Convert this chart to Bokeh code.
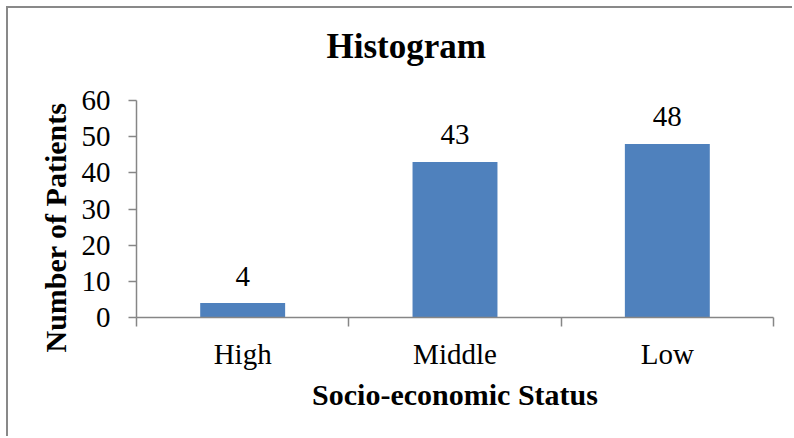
from bokeh.plotting import figure
from bokeh.models import ColumnDataSource, FixedTicker, Range1d, Title
from bokeh.embed import file_html
from bokeh.resources import INLINE
from bokeh.core.properties import value

categories = ["High", "Middle", "Low"]
patients = [4, 43, 48]
y_ticks = [0, 10, 20, 30, 40, 50, 60]
title_text = "Histogram"
x_title = "Socio-economic Status"
y_title = "Number of Patients"

FONT = "Liberation Serif"
AXIS_COLOR = "#868686"
BAR_COLOR = "#4F81BD"

x_pos = [i + 0.5 for i in range(len(categories))]
bounds = [float(i) for i in range(len(categories) + 1)]
src = ColumnDataSource(dict(x=x_pos, top=patients, label=[str(v) for v in patients]))

p = figure(width=786, height=430, output_backend="svg", toolbar_location=None,
           title_location=None,
           x_range=Range1d(0, len(categories)), y_range=Range1d(y_ticks[0], y_ticks[-1]),
           min_border_left=128, min_border_right=21, min_border_top=92, min_border_bottom=121)
p.margin = (6, 0, 0, 6)
p.styles = {"border-left": "2px solid #898989", "border-top": "2px solid #898989"}

p.vbar(x="x", top="top", width=0.4, bottom=0, source=src, fill_color=BAR_COLOR, line_color=None)
p.text(x="x", y="top", text="label", source=src, y_offset=-27, text_align="center",
       text_baseline="alphabetic", text_font=value(FONT), text_font_size=value("29px"),
       text_color="black")

p.grid.visible = False
p.outline_line_color = None
p.background_fill_color = "white"
p.border_fill_color = "white"

# spacer between frame and title, then the title itself
spacer = Title(text=" ", text_font_size="10px", standoff=22)
p.add_layout(spacer, "above")
main_title = Title(text=title_text, text_font=FONT, text_font_size="35px",
                   text_font_style="bold", text_color="black", align="left",
                   offset=190, standoff=0)
p.add_layout(main_title, "above")

# x axis
xa = p.xaxis[0]
xa.ticker = FixedTicker(ticks=x_pos, minor_ticks=bounds)
xa.major_label_overrides = {x: c for x, c in zip(x_pos, categories)}
xa.major_tick_out = 0
xa.major_tick_in = 0
xa.minor_tick_out = 9
xa.minor_tick_in = 0
xa.minor_tick_line_color = AXIS_COLOR
xa.minor_tick_line_width = 1.5
xa.axis_line_color = AXIS_COLOR
xa.axis_line_width = 1.5
xa.major_label_standoff = 11
xa.major_label_text_font = FONT
xa.major_label_text_font_size = "29px"
xa.major_label_text_color = "black"
xa.axis_label = x_title
xa.axis_label_text_font = FONT
xa.axis_label_text_font_size = "30px"
xa.axis_label_text_font_style = "bold"
xa.axis_label_text_color = "black"
xa.axis_label_standoff = 5

# y axis
ya = p.yaxis[0]
ya.ticker = FixedTicker(ticks=y_ticks, minor_ticks=[])
ya.major_tick_out = 8
ya.major_tick_in = 0
ya.major_tick_line_color = AXIS_COLOR
ya.major_tick_line_width = 1.5
ya.minor_tick_line_color = None
ya.axis_line_color = AXIS_COLOR
ya.axis_line_width = 1.5
ya.major_label_standoff = 18
ya.major_label_text_font = FONT
ya.major_label_text_font_size = "29px"
ya.major_label_text_color = "black"

ytitle = Title(text=y_title, align="left", offset=-35, standoff=14,
               text_font=FONT, text_font_size="30px", text_font_style="bold",
               text_color="black")
p.add_layout(ytitle, "left")

open("out.html", "w").write(file_html(p, INLINE))
